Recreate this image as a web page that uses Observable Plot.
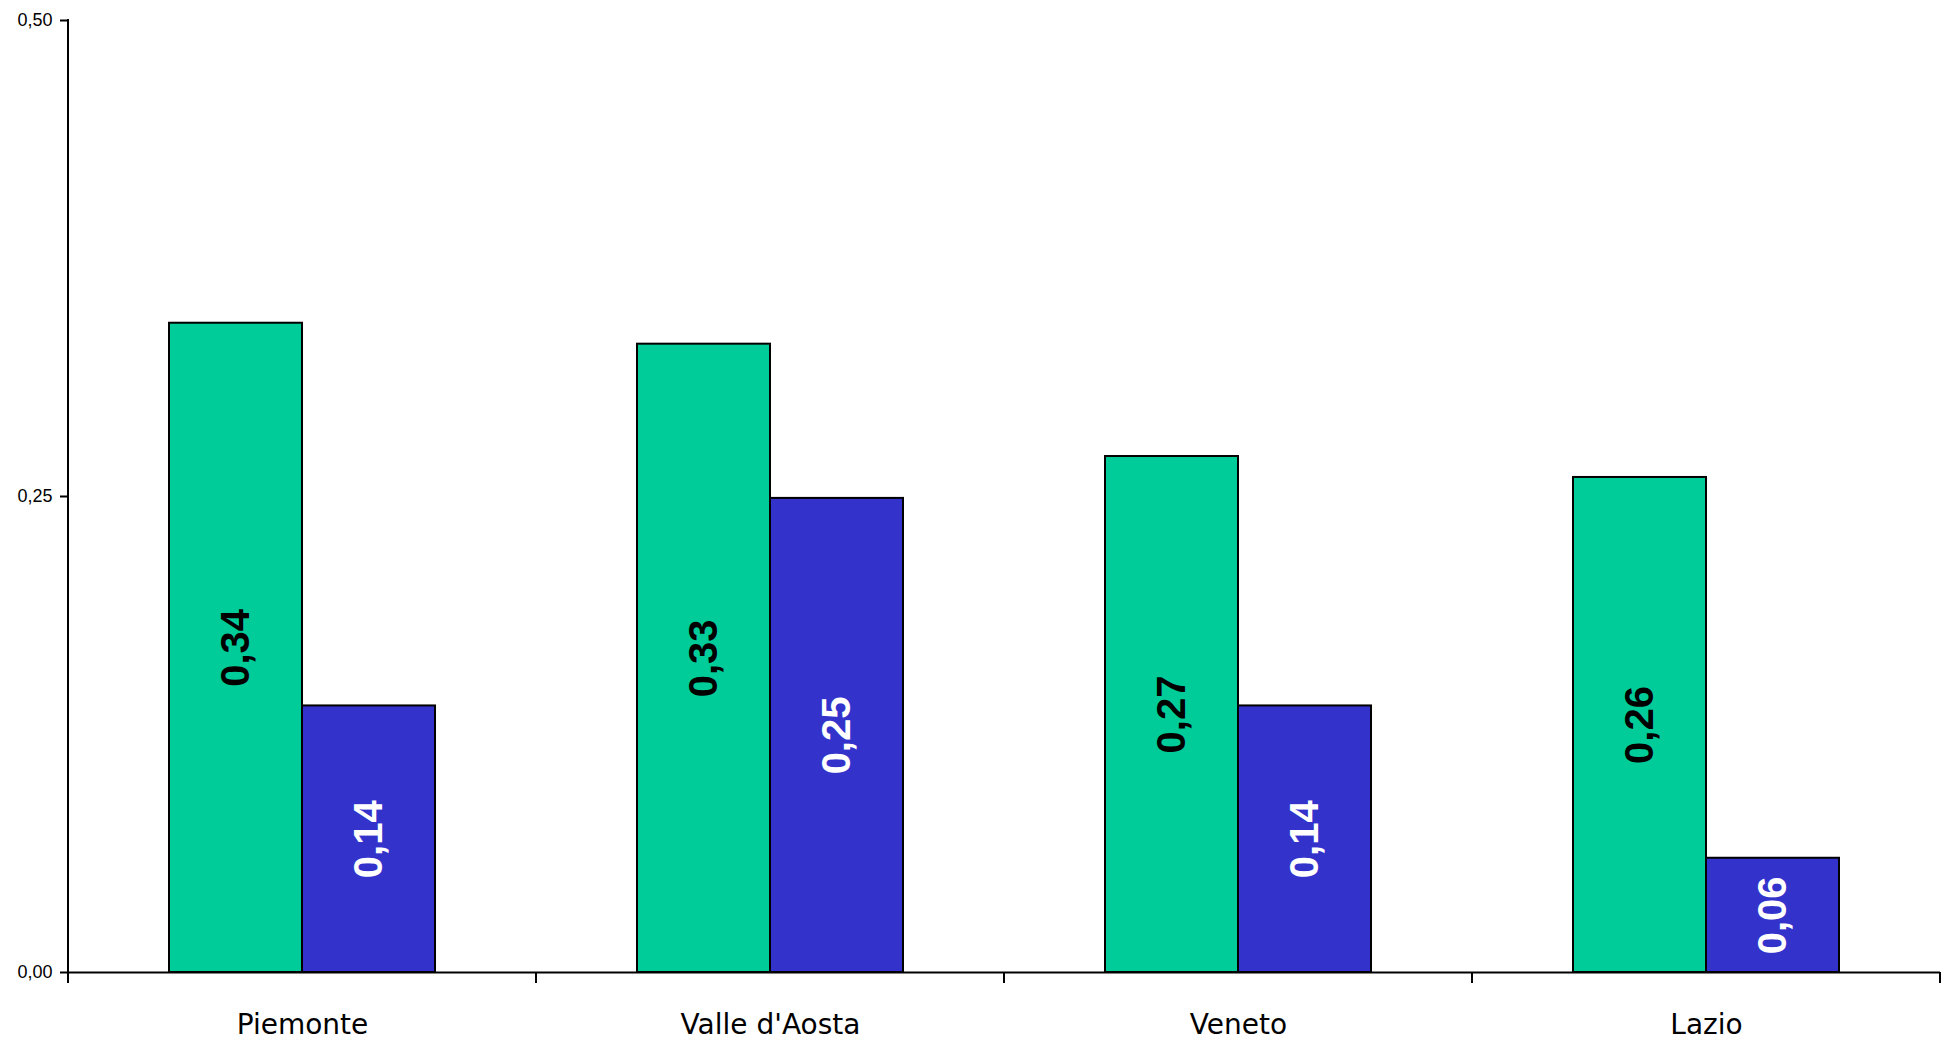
<!DOCTYPE html>
<html><head><meta charset="utf-8">
<script src="https://cdn.jsdelivr.net/npm/d3@7"></script>
<script src="https://cdn.jsdelivr.net/npm/@observablehq/plot@0.6"></script>
<style>body{margin:0;background:#fff}</style>
</head><body><div id="chart"></div>
<script>
const regions = ["Piemonte", "Valle d'Aosta", "Veneto", "Lazio"];
const seriesNames = ["Serie 1", "Serie 2"];
const valuesA = [0.341, 0.330, 0.271, 0.260];
const valuesB = [0.140, 0.249, 0.140, 0.060];
const labelsA = ["0,34", "0,33", "0,27", "0,26"];
const labelsB = ["0,14", "0,25", "0,14", "0,06"];
const yTicks = [0, 0.25, 0.5];
const colors = ["#00CC99", "#3333CC"];
const labelColors = ["#000000", "#FFFFFF"];

const data = regions.flatMap((r, i) => [
  {region: r, series: seriesNames[0], value: valuesA[i], label: labelsA[i]},
  {region: r, series: seriesNames[1], value: valuesB[i], label: labelsB[i]}
]);

const plot = Plot.plot({
  width: 1956, height: 1045,
  marginLeft: 67, marginRight: 15, marginTop: 20, marginBottom: 73,
  style: {fontFamily: "'Liberation Sans', Arial, sans-serif", background: "#fff", color: "#000"},
  fx: {domain: regions, paddingInner: 0, paddingOuter: 0, label: null},
  x: {domain: seriesNames, paddingInner: 0, paddingOuter: 0.75, axis: null},
  y: {domain: [0, 0.5], axis: null},
  color: {domain: seriesNames, range: colors},
  marks: [
    Plot.barY(data, {fx: "region", x: "series", y: "value", fill: "series", stroke: "#000", strokeWidth: 2}),
    Plot.text(data.filter(d => d.series === seriesNames[0]), {fx: "region", x: "series", y: d => d.value / 2, text: "label", rotate: -90, fill: labelColors[0], fontSize: 40, fontWeight: "bold"}),
    Plot.text(data.filter(d => d.series === seriesNames[1]), {fx: "region", x: "series", y: d => d.value / 2, text: "label", rotate: -90, fill: labelColors[1], fontSize: 40, fontWeight: "bold"}),
    Plot.ruleY([0], {stroke: "#000", strokeWidth: 2}),
    Plot.axisY({ticks: yTicks, tickFormat: d => d.toFixed(2).replace(".", ","), tickSize: 8, tickPadding: 8, fontSize: 18, strokeWidth: 2, label: null}),
    Plot.axisFx({anchor: "bottom", tickSize: 0, tickPadding: 42, fontSize: 28, fontFamily: "'DejaVu Sans', sans-serif", label: null})
  ]
});

// y axis line and category boundary ticks, positioned with Plot's own fx / y scales
const fx = plot.scale("fx");
const ys = plot.scale("y");
const left = fx.apply(regions[0]);
const bounds = regions.map(r => fx.apply(r)).concat([fx.apply(regions[regions.length - 1]) + fx.bandwidth]);
const y0 = ys.apply(0);
const yTop = ys.apply(yTicks[yTicks.length - 1]);
const g = d3.select(plot).append("g").attr("stroke", "#000").attr("stroke-width", 2);
g.append("line").attr("x1", left).attr("x2", left).attr("y1", yTop - 1).attr("y2", y0);
bounds.forEach(b => g.append("line").attr("x1", b).attr("x2", b).attr("y1", y0).attr("y2", y0 + 11));

document.getElementById("chart").appendChild(plot);
</script>
</body></html>
